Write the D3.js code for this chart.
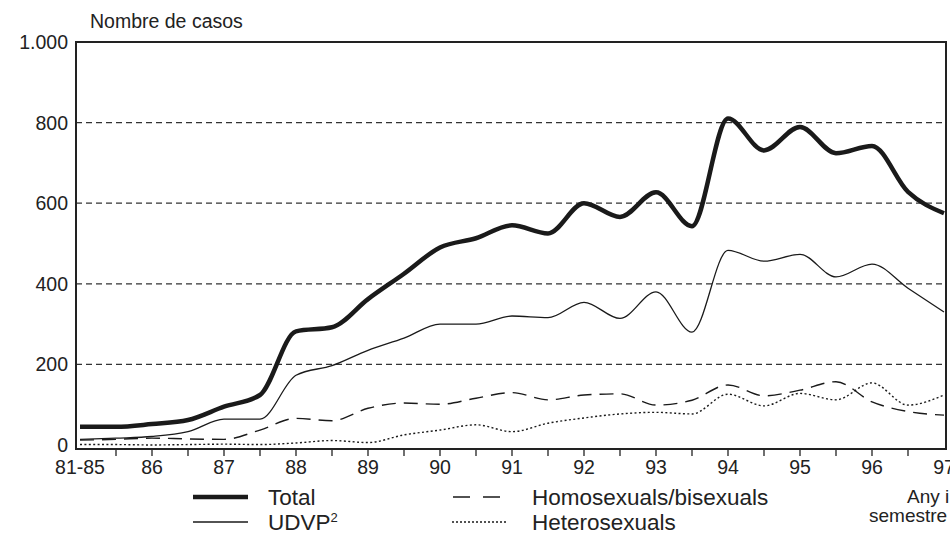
<!DOCTYPE html>
<html>
<head>
<meta charset="utf-8">
<script src="https://cdn.jsdelivr.net/npm/d3@7"></script>
<style>
  body { margin: 0; background: #fff; }
  svg text { font-family: "Liberation Sans", Arial, sans-serif; fill: #222; }
</style>
</head>
<body>
<svg id="chart" width="950" height="546"></svg>
<script>
// semesters: 81-85, then two per year up to 97
const xLabels = ['81-85', '86', '87', '88', '89', '90', '91', '92', '93', '94', '95', '96', '97'];
const yTicks = [0, 200, 400, 600, 800, 1000];

const total = [45, 45, 52, 62, 95, 124, 282, 292, 362, 425, 490, 513, 545, 525, 600, 566, 627, 543, 810, 731, 789, 724, 742, 628, 575];
const udvp = [14, 17, 21, 33, 64, 64, 173, 197, 235, 265, 300, 300, 320, 316, 354, 314, 380, 280, 483, 456, 473, 417, 449, 389, 330];
const homo = [12, 14, 17, 15, 14, 37, 66, 60, 91, 104, 101, 116, 130, 112, 124, 127, 99, 111, 149, 122, 136, 157, 107, 83, 74];
const hetero = [1, 1, 0, 1, 2, 1, 5, 11, 6, 25, 37, 50, 33, 54, 67, 77, 81, 77, 126, 97, 128, 112, 154, 99, 124];

const svg = d3.select('#chart');
const box = { left: 76, right: 946, top: 42, bottom: 449 };

const x = d3.scaleLinear().domain([0, 24]).range([80, 944]);
const y = d3.scaleLinear().domain([-10, 1000]).range([box.bottom, box.top]);

// grid lines
svg.append('g')
  .selectAll('line')
  .data(yTicks.filter(d => d > 0 && d < 1000))
  .enter()
  .append('line')
  .attr('x1', box.left)
  .attr('x2', box.right)
  .attr('y1', d => y(d))
  .attr('y2', d => y(d))
  .attr('stroke', '#333')
  .attr('stroke-width', 1.3)
  .attr('stroke-dasharray', '6,4');

// y labels
svg.append('g')
  .selectAll('text')
  .data(yTicks)
  .enter()
  .append('text')
  .attr('x', 68)
  .attr('y', d => d === 1000 ? box.top : y(d))
  .attr('dy', '0.36em')
  .attr('text-anchor', 'end')
  .style('font-size', '19.5px')
  .text(d => d3.format(',')(d).replace(',', '.'));

svg.append('text')
  .attr('x', 90)
  .attr('y', 27.5)
  .style('font-size', '19.5px')
  .text('Nombre de casos');

// x ticks (one per semester) and year labels
const semesters = d3.range(1, 24);
svg.append('g')
  .selectAll('line')
  .data(semesters)
  .enter()
  .append('line')
  .attr('x1', d => x(d))
  .attr('x2', d => x(d))
  .attr('y1', box.bottom)
  .attr('y2', box.bottom + 7)
  .attr('stroke', '#222')
  .attr('stroke-width', 1.3);

svg.append('g')
  .selectAll('text')
  .data(xLabels)
  .enter()
  .append('text')
  .attr('x', (d, i) => x(i * 2))
  .attr('y', 474)
  .attr('text-anchor', 'middle')
  .style('font-size', '19.5px')
  .text(d => d);

// lines
svg.append('clipPath')
  .attr('id', 'plot')
  .append('rect')
  .attr('x', box.left)
  .attr('y', box.top)
  .attr('width', box.right - box.left)
  .attr('height', box.bottom - box.top);

const line = d3.line()
  .x((d, i) => x(i))
  .y(d => y(d))
  .curve(d3.curveMonotoneX);

const series = [
  { name: 'Heterosexuals', values: hetero, width: 1.4, dash: '2,2.4' },
  { name: 'Homosexuals/bisexuals', values: homo, width: 1.4, dash: '14,8' },
  { name: 'UDVP', values: udvp, width: 1.3, dash: null },
  { name: 'Total', values: total, width: 4.5, dash: null }
];

svg.append('g')
  .attr('clip-path', 'url(#plot)')
  .selectAll('path')
  .data(series)
  .enter()
  .append('path')
  .attr('d', d => line(d.values))
  .attr('fill', 'none')
  .attr('stroke', '#1a1a1a')
  .attr('stroke-width', d => d.width)
  .attr('stroke-dasharray', d => d.dash)
  .attr('stroke-linejoin', 'round');

// frame
svg.append('rect')
  .attr('x', box.left)
  .attr('y', box.top)
  .attr('width', box.right - box.left)
  .attr('height', box.bottom - box.top)
  .attr('fill', 'none')
  .attr('stroke', '#222')
  .attr('stroke-width', 2);

// legend
const legend = [
  { label: 'Total', x: 193, y: 497, width: 4.5, dash: null, len: 55 },
  { label: 'UDVP', x: 193, y: 522, width: 1.3, dash: null, len: 55 },
  { label: 'Homosexuals/bisexuals', x: 453, y: 497, width: 1.4, dash: '17,13', len: 50 },
  { label: 'Heterosexuals', x: 452, y: 522, width: 1.3, dash: '2,2', len: 54 }
];

const lg = svg.append('g')
  .selectAll('g')
  .data(legend)
  .enter()
  .append('g');

lg.append('line')
  .attr('x1', d => d.x)
  .attr('x2', d => d.x + d.len)
  .attr('y1', d => d.y)
  .attr('y2', d => d.y)
  .attr('stroke', '#1a1a1a')
  .attr('stroke-width', d => d.width)
  .attr('stroke-dasharray', d => d.dash);

const lt = lg.append('text')
  .attr('x', d => d.x < 300 ? 268 : 532)
  .attr('y', d => d.y + 8)
  .style('font-size', '22.5px')
  .text(d => d.label);

lt.filter(d => d.label === 'UDVP')
  .append('tspan')
  .attr('dy', -8)
  .style('font-size', '13px')
  .text('2');

svg.append('text')
  .attr('x', 907)
  .attr('y', 503)
  .style('font-size', '19px')
  .text('Any i');

svg.append('text')
  .attr('x', 869)
  .attr('y', 522)
  .style('font-size', '19px')
  .text('semestre');
</script>
</body>
</html>
